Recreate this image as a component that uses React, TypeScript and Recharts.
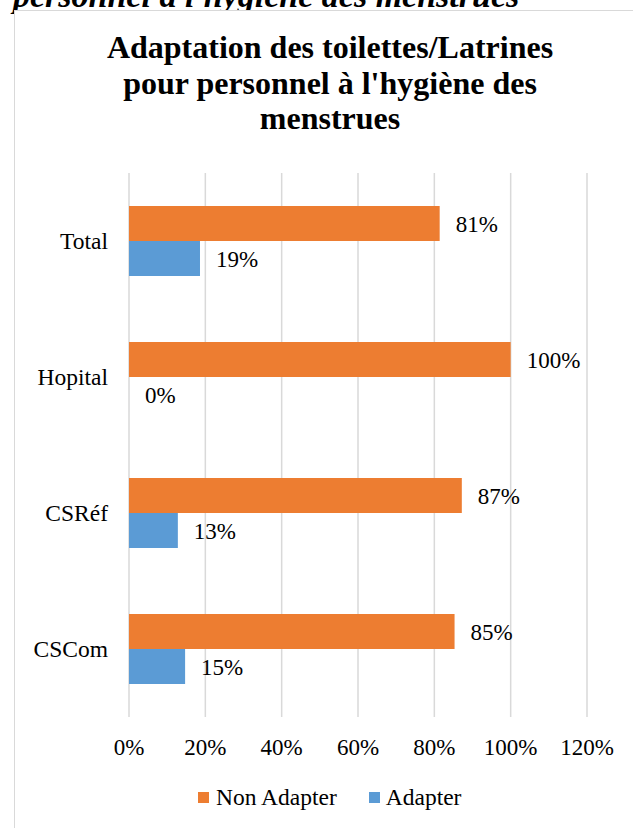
import React from 'react';
import {
  BarChart,
  Bar,
  XAxis,
  YAxis,
  CartesianGrid,
  LabelList,
} from 'recharts';

// categories, top to bottom
const categories = ['Total', 'Hopital', 'CSRéf', 'CSCom'];
// share (%) of toilets not adapted / adapted
const nonAdapter = [81.4, 100, 87.2, 85.3];
const adapter = [18.6, 0, 12.8, 14.7];
const xTicks = [0, 20, 40, 60, 80, 100, 120];

const ORANGE = '#ED7D31';
const BLUE = '#5B9BD5';
const GRID = '#d9d9d9';
const FONT = "'Liberation Serif', 'DejaVu Serif', serif";

const data = categories.map((name, i) => ({
  name,
  nonAdapter: nonAdapter[i],
  adapter: adapter[i],
}));

const pct = (v: any) => `${Math.round(Number(v))}%`;

const App = () => {
  return (
    <div
      style={{
        position: 'absolute',
        left: 0,
        top: 0,
        width: 633,
        height: 828,
        overflow: 'hidden',
        background: '#fff',
        fontFamily: FONT,
      }}
    >
      {/* caption of the document, cut off by the page */}
      <div
        style={{
          position: 'absolute',
          left: 13,
          top: -21,
          fontFamily: FONT,
          fontSize: 34,
          lineHeight: '34px',
          fontWeight: 'bold',
          fontStyle: 'italic',
          whiteSpace: 'nowrap',
          color: '#000',
        }}
      >
        personnel à l'hygiène des menstrues
      </div>

      {/* chart frame */}
      <div
        style={{
          position: 'absolute',
          left: 14,
          top: 10,
          width: 660,
          height: 840,
          border: `1.5px solid ${GRID}`,
          background: '#fff',
        }}
      />

      <div
        style={{
          position: 'absolute',
          left: 80,
          top: 30,
          width: 500,
          textAlign: 'center',
          fontFamily: FONT,
          fontSize: 32,
          lineHeight: '35.5px',
          fontWeight: 'bold',
          color: '#000',
        }}
      >
        Adaptation des toilettes/Latrines
        <br />
        pour personnel à l'hygiène des
        <br />
        menstrues
      </div>

      <div style={{ position: 'absolute', left: 0, top: 0 }}>
        <BarChart
          width={633}
          height={828}
          data={data}
          layout="vertical"
          margin={{ top: 173, right: 46, left: 0, bottom: 61 }}
          barSize={35}
          barGap={0}
        >
          <CartesianGrid horizontal={false} stroke={GRID} strokeWidth={1.5} />
          <XAxis
            type="number"
            domain={[0, 120]}
            ticks={xTicks}
            tickFormatter={(v) => `${v}%`}
            axisLine={false}
            tickLine={false}
            tickSize={0}
            tickMargin={22}
            height={50}
            interval={0}
            tick={{ fill: '#000', fontSize: 23, fontFamily: FONT }}
          />
          <YAxis
            type="category"
            dataKey="name"
            width={129}
            axisLine={false}
            tickLine={false}
            tickSize={0}
            tickMargin={21}
            tick={{ fill: '#000', fontSize: 23.5, fontFamily: FONT }}
          />
          <Bar dataKey="nonAdapter" name="Non Adapter" fill={ORANGE} isAnimationActive={false}>
            <LabelList
              dataKey="nonAdapter"
              position="right"
              offset={16}
              formatter={pct}
              style={{ fill: '#000', fontSize: 23, fontFamily: FONT }}
            />
          </Bar>
          <Bar
            dataKey="adapter"
            name="Adapter"
            fill={BLUE}
            minPointSize={0.01}
            isAnimationActive={false}
          >
            <LabelList
              dataKey="adapter"
              position="right"
              offset={16}
              formatter={pct}
              style={{ fill: '#000', fontSize: 23, fontFamily: FONT }}
            />
          </Bar>
        </BarChart>
      </div>

      {/* legend */}
      <div
        style={{
          position: 'absolute',
          left: 198,
          top: 785,
          height: 24,
          display: 'flex',
          alignItems: 'center',
          fontFamily: FONT,
          fontSize: 23.5,
          color: '#000',
          whiteSpace: 'nowrap',
        }}
      >
        <span style={{ width: 11, height: 11, background: ORANGE, marginRight: 7 }} />
        <span style={{ marginRight: 32 }}>Non Adapter</span>
        <span style={{ width: 11, height: 11, background: BLUE, marginRight: 6 }} />
        <span>Adapter</span>
      </div>
    </div>
  );
};

export default App;
